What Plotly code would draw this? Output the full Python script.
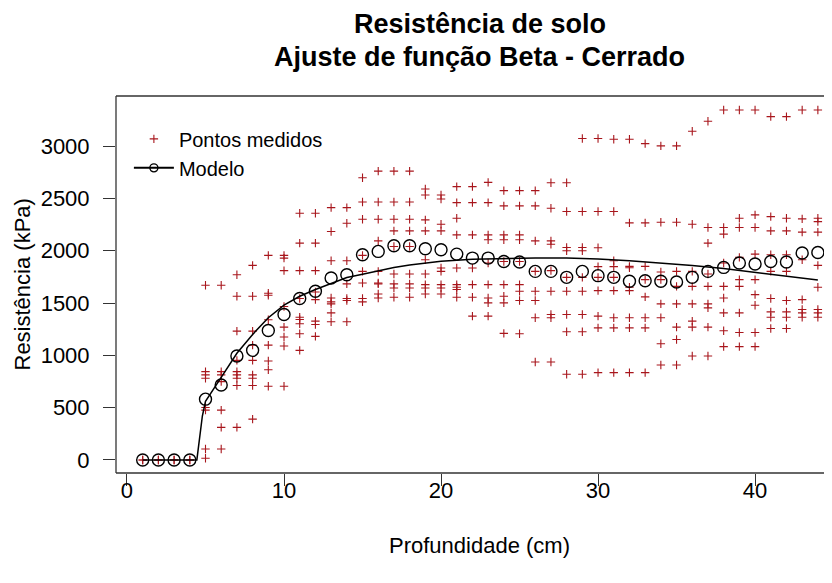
import plotly.graph_objects as go

# Measured points: depth (cm) -> resistance values (kPa)
depths = list(range(1, 45))
measured = [
    [0, 0], [0, 0], [0, 0], [0, 0],
    [1670, 844, 813, 781, 502, 476, 105, 16],
    [1670, 844, 813, 749, 476, 311, 105],
    [1771, 1565, 1232, 952, 844, 813, 781, 711, 311],
    [1860, 1565, 1232, 1098, 952, 813, 781, 711, 390],
    [1956, 1594, 1575, 1340, 1098, 946, 863, 705],
    [1956, 1930, 1810, 1467, 1270, 1175, 1089, 705],
    [2359, 2073, 1810, 1543, 1365, 1343, 1302, 1206, 1048],
    [2359, 2073, 1810, 1606, 1533, 1327, 1295, 1181],
    [2413, 2184, 1905, 1549, 1511, 1492, 1406, 1321],
    [2413, 2263, 1905, 1683, 1543, 1524, 1321],
    [2698, 2467, 2302, 1956, 1803, 1692, 1543, 1511],
    [2762, 2467, 2302, 2095, 1803, 1692, 1683, 1587, 1549],
    [2762, 2467, 2302, 2190, 2041, 1778, 1683, 1644, 1556],
    [2762, 2467, 2302, 2190, 2041, 1778, 1683, 1644, 1556],
    [2590, 2533, 2295, 2190, 1914, 1778, 1676, 1644, 1587],
    [2533, 2495, 2254, 2190, 1835, 1803, 1676, 1644, 1587],
    [2613, 2460, 2311, 2152, 1835, 1676, 1651, 1629, 1556],
    [2613, 2460, 2152, 1835, 1676, 1556, 1375],
    [2654, 2460, 2152, 2105, 1883, 1676, 1549, 1502, 1375],
    [2575, 2429, 2152, 2105, 1898, 1676, 1565, 1502, 1210],
    [2575, 2429, 2152, 2105, 1898, 1676, 1613, 1524, 1206],
    [2575, 2429, 2095, 1803, 1613, 1524, 1359, 937],
    [2651, 2406, 2095, 2063, 1810, 1613, 1390, 1359, 937],
    [2651, 2375, 2032, 2000, 1746, 1613, 1390, 1225, 819],
    [3073, 2375, 2032, 2000, 1746, 1613, 1390, 1225, 819],
    [3073, 2375, 2029, 1848, 1746, 1619, 1375, 1263, 835],
    [3067, 2375, 1905, 1848, 1746, 1619, 1359, 1263, 835],
    [3067, 2267, 1851, 1838, 1651, 1619, 1359, 1263, 835],
    [3025, 2267, 1851, 1724, 1559, 1359, 1263, 835],
    [3003, 2273, 1797, 1724, 1492, 1359, 1111, 908],
    [3003, 2273, 1803, 1660, 1492, 1270, 1152, 908],
    [3143, 2254, 1803, 1660, 1492, 1327, 1270, 994],
    [3238, 2222, 2073, 1778, 1660, 1492, 1454, 1270, 994],
    [3346, 2222, 2159, 1883, 1660, 1549, 1406, 1235, 1083],
    [3346, 2311, 2222, 1937, 1724, 1660, 1406, 1219, 1083],
    [3346, 2343, 2222, 1968, 1724, 1581, 1479, 1219, 1083],
    [3283, 2327, 2190, 1962, 1803, 1543, 1416, 1365, 1257],
    [3283, 2311, 2190, 1962, 1803, 1524, 1416, 1365, 1257],
    [3346, 2305, 2178, 1914, 1533, 1438, 1406, 1365],
    [3346, 2311, 2279, 2178, 1860, 1651, 1438, 1406, 1365],
]

# Circles (per-depth summary values)
summary = [0, 0, 0, 0, 581, 717, 994, 1048, 1238, 1390,
           1543, 1613, 1740, 1771, 1962, 1994, 2048, 2048, 2019, 2010,
           1968, 1930, 1930, 1898, 1892, 1803, 1803, 1746, 1803, 1762,
           1746, 1708, 1714, 1708, 1702, 1746, 1803, 1841, 1883, 1873,
           1898, 1892, 1978, 1984]

# Fitted model curve
model_x = [1, 2, 3, 4, 4.45, 4.8, 5, 6, 7, 8, 9, 10, 11, 12, 13, 14, 15, 16, 17, 18,
           19, 20, 22, 24, 26, 28, 30, 32, 34, 36, 38, 40, 42, 44]
model_y = [0, 0, 0, 0, 0, 420, 560, 790, 1020, 1200, 1360, 1480, 1565, 1630, 1690, 1745,
           1775, 1810, 1840, 1865, 1885, 1900, 1918, 1928, 1932, 1930, 1922, 1905, 1885,
           1860, 1830, 1795, 1760, 1720]

x_ticks = [0, 10, 20, 30, 40]
y_ticks = [0, 500, 1000, 1500, 2000, 2500, 3000]

pts_x, pts_y = [], []
for d, vals in zip(depths, measured):
    for v in vals:
        pts_x.append(d)
        pts_y.append(v)

RED = "#A8161C"
FONT = "Liberation Sans, Arial, sans-serif"

fig = go.Figure()
fig.add_trace(go.Scatter(
    x=pts_x, y=pts_y, mode="markers", name="Pontos medidos",
    marker=dict(symbol="cross-thin", size=6, line=dict(color=RED, width=1.1), color=RED),
))
fig.add_trace(go.Scatter(
    x=model_x, y=model_y, mode="lines", showlegend=False,
    line=dict(color="black", width=1.5),
))
fig.add_trace(go.Scatter(
    x=depths, y=summary, mode="markers", showlegend=False,
    marker=dict(symbol="circle-open", size=12, line=dict(color="black", width=1.4), color="black"),
))
fig.add_trace(go.Scatter(
    x=[None], y=[None], mode="lines+markers", name="Modelo",
    line=dict(color="black", width=2),
    marker=dict(symbol="circle-open", size=8, line=dict(color="black", width=1.4), color="black"),
))

axis_common = dict(
    showgrid=False, zeroline=False, ticks="outside", ticklen=12, tickwidth=1,
    tickcolor="#333", showline=False, automargin=False,
    tickfont=dict(family=FONT, size=22, color="black"),
)

# The page body adds an 8px offset, so the figure is sized to fit the window.
fig.update_layout(
    width=824, height=575,
    margin=dict(l=108, r=0, t=88, b=110),
    paper_bgcolor="white", plot_bgcolor="white",
    font=dict(family=FONT, color="black"),
    xaxis=dict(range=[-0.7, 44.9], tickvals=x_ticks, ticklabelstandoff=-14, **axis_common),
    yaxis=dict(range=[-125, 3480], tickvals=y_ticks, ticklabelstandoff=9, **axis_common),
    legend=dict(x=0.018, y=0.938, xanchor="left", yanchor="top",
                font=dict(family=FONT, size=20, color="black"),
                bgcolor="rgba(0,0,0,0)", tracegroupgap=0, itemwidth=40),
    showlegend=True,
    annotations=[
        dict(text="<b>Resistência de solo</b>", x=0.508, xref="paper",
             y=1 + 72 / 377, yref="paper", yanchor="middle", showarrow=False,
             font=dict(family=FONT, size=27, color="black")),
        dict(text="<b>Ajuste de função Beta - Cerrado</b>", x=0.508, xref="paper",
             y=1 + 39 / 377, yref="paper", yanchor="middle", showarrow=False,
             font=dict(family=FONT, size=27, color="black")),
        dict(text="Profundidade (cm)", x=0.508, xref="paper",
             y=-72 / 377, yref="paper", yanchor="middle", showarrow=False,
             font=dict(family=FONT, size=22, color="black")),
        dict(text="Resistência (kPa)", x=-94 / 716, xref="paper",
             y=0.5, yref="paper", xanchor="center", yanchor="middle", textangle=-90,
             showarrow=False, font=dict(family=FONT, size=22, color="black")),
    ],
    shapes=[
        dict(type="line", xref="paper", yref="paper", x0=0, x1=0, y0=0, y1=1,
             line=dict(color="#333", width=1.3)),
        dict(type="line", xref="paper", yref="paper", x0=0, x1=1.02, y0=1, y1=1,
             line=dict(color="#333", width=1.3)),
        dict(type="line", xref="paper", yref="paper", x0=0, x1=1.02, y0=0, y1=0,
             line=dict(color="#333", width=1.3)),
    ],
)

fig.write_html("out.html")
